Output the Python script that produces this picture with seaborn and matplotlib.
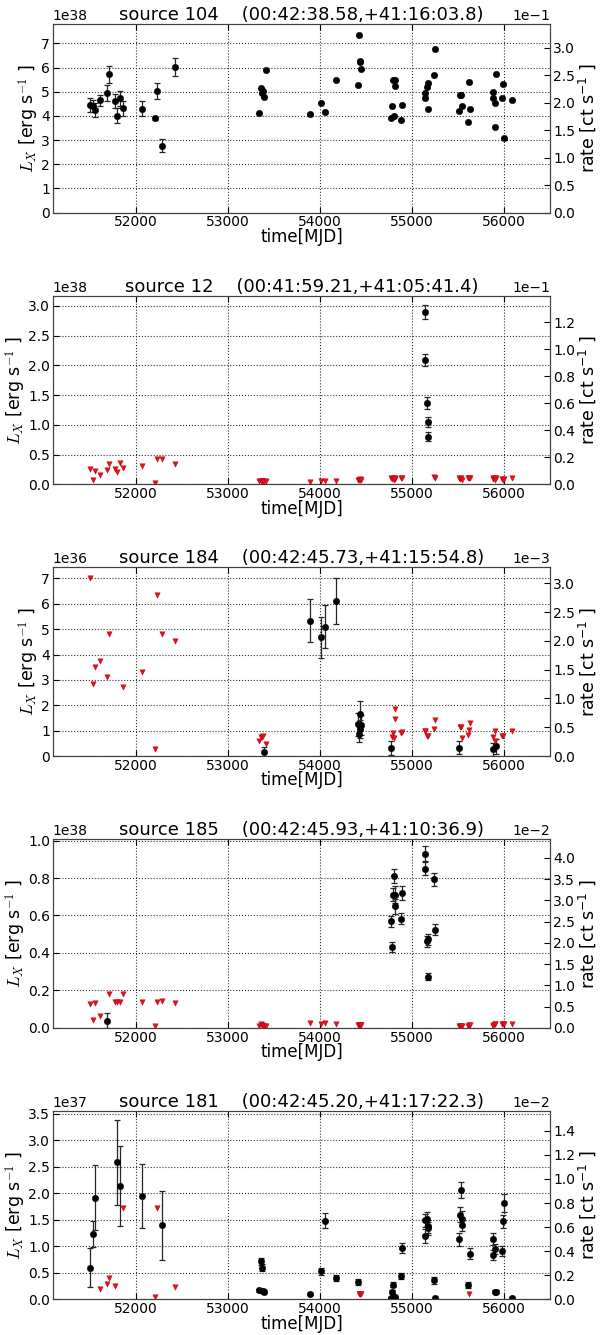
import numpy as np
import pandas as pd
import seaborn as sns
import matplotlib
matplotlib.use('Agg')
from matplotlib import pyplot as plt
from matplotlib.ticker import MultipleLocator

# luminosity per unit count rate (erg s^-1 per ct s^-1)
LX_PER_RATE = 2.27e39

# ---- source 104, Lx in units of 1e38 ----
s104_t = [51509, 51538, 51563, 51610, 51690, 51715, 51773, 51798, 51827, 51863,
          52069, 52209, 52227, 52289, 52422,
          53336, 53361, 53368, 53386, 53397, 53419,
          53892, 54007, 54054, 54170,
          54412, 54419, 54433, 54440, 54451,
          54776, 54783, 54798, 54805, 54812, 54816, 54877, 54888,
          55137, 55144, 55159, 55170, 55177, 55235, 55249,
          55509, 55516, 55531, 55545, 55603, 55614, 55625,
          55876, 55884, 55898, 55905, 55913, 55975, 55983, 55995, 56080]
s104_lx = [4.44, 4.42, 4.24, 4.64, 4.95, 5.73, 4.62, 4.01, 4.73, 4.31,
           4.30, 3.90, 5.04, 2.77, 6.01,
           4.11, 5.15, 4.93, 5.01, 4.77, 5.88,
           4.07, 4.52, 4.17, 5.50,
           5.29, 7.34, 6.26, 6.22, 5.93,
           3.93, 4.42, 5.50, 4.00, 5.47, 5.24, 3.85, 4.46,
           4.94, 4.76, 5.19, 5.37, 4.27, 5.68, 6.76,
           4.21, 4.85, 4.88, 4.39, 3.73, 5.40, 4.29,
           4.72, 4.98, 3.55, 4.55, 5.73, 4.76, 5.33, 3.08, 4.66]
s104_err = [0.28, 0.25, 0.29, 0.22, 0.32, 0.35, 0.30, 0.30, 0.32, 0.30,
            0.31, 0.05, 0.34, 0.26, 0.37] + [0.0] * 46
s104_ul_t = []
s104_ul = []

# ---- source 12, Lx in units of 1e38 ----
s12_t = [55137, 55144, 55159, 55170, 55177]
s12_lx = [2.90, 2.09, 1.36, 1.05, 0.80]
s12_err = [0.12, 0.10, 0.10, 0.09, 0.08]
s12_ul_t = [51509, 51538, 51563, 51610, 51690, 51715, 51773, 51798, 51827, 51863,
            52069, 52209, 52227, 52289, 52422,
            53336, 53361, 53368, 53386, 53397, 53419,
            53892, 54007, 54054, 54170,
            54412, 54419, 54433, 54440, 54451,
            54776, 54783, 54798, 54805, 54812, 54816, 54877, 54888,
            55235, 55249,
            55509, 55516, 55531, 55545, 55603, 55614, 55625,
            55876, 55884, 55898, 55905, 55913, 55975, 55983, 55995, 56080]
s12_ul = [0.26, 0.08, 0.22, 0.15, 0.24, 0.34, 0.26, 0.20, 0.35, 0.27,
          0.30, 0.02, 0.43, 0.43, 0.34,
          0.05, 0.06, 0.05, 0.06, 0.04, 0.05,
          0.04, 0.05, 0.06, 0.05,
          0.08, 0.08, 0.09, 0.08, 0.08,
          0.10, 0.09, 0.10, 0.08, 0.10, 0.09, 0.10, 0.10,
          0.12, 0.11,
          0.10, 0.09, 0.10, 0.08, 0.10, 0.11, 0.10,
          0.10, 0.09, 0.10, 0.08, 0.10, 0.09, 0.08, 0.09, 0.10]

# ---- source 184, Lx in units of 1e36 ----
s184_t = [53397, 53892, 54007, 54054, 54170, 54412, 54419, 54433, 54440, 54451,
          54776, 55509, 55884, 55913]
s184_lx = [0.16, 5.33, 4.68, 5.09, 6.11, 1.25, 0.87, 1.65, 1.07, 1.21,
           0.33, 0.33, 0.26, 0.38]
s184_err = [0.20, 0.85, 0.80, 0.85, 0.92, 0.45, 0.30, 0.50, 0.35, 0.40,
            0.28, 0.26, 0.25, 0.30]
s184_ul_t = [51509, 51538, 51563, 51610, 51690, 51715, 51863, 52069, 52209, 52227,
             52289, 52422, 53336, 53361, 53368, 53386, 53419,
             54783, 54798, 54805, 54812, 54816, 54877, 54888,
             55137, 55144, 55159, 55170, 55235, 55249,
             55516, 55531, 55545, 55603, 55614, 55625,
             55876, 55898, 55905, 55975, 55983, 56080]
s184_ul = [7.03, 2.82, 3.51, 3.76, 3.10, 4.82, 2.72, 3.31, 0.29, 6.35,
           4.80, 4.55, 0.59, 0.74, 0.76, 0.79, 0.46,
           0.74, 0.91, 0.70, 1.87, 1.46, 0.92, 0.95,
           1.00, 0.98, 0.78, 0.78, 1.07, 1.42,
           1.13, 1.15, 0.71, 0.83, 1.04, 1.31,
           0.75, 0.59, 0.98, 0.78, 0.78, 0.98]

# ---- source 185, Lx in units of 1e38 ----
s185_t = [51690, 54776, 54783, 54798, 54805, 54812, 54816, 54877, 54888,
          55137, 55144, 55159, 55170, 55177, 55235, 55249]
s185_lx = [0.037, 0.568, 0.432, 0.710, 0.811, 0.650, 0.710, 0.583, 0.720,
           0.930, 0.850, 0.462, 0.473, 0.273, 0.793, 0.523]
s185_err = [0.040, 0.030, 0.025, 0.035, 0.035, 0.040, 0.045, 0.030, 0.035,
            0.040, 0.035, 0.030, 0.030, 0.020, 0.035, 0.030]
s185_ul_t = [51509, 51538, 51563, 51610, 51715, 51773, 51798, 51827, 51863,
             52069, 52209, 52227, 52289, 52422,
             53336, 53361, 53368, 53386, 53397, 53419,
             53892, 54007, 54054, 54170,
             54412, 54419, 54433, 54440, 54451,
             55509, 55516, 55531, 55545, 55603, 55614, 55625,
             55876, 55884, 55898, 55905, 55975, 55983, 55995, 56080]
s185_ul = [0.127, 0.040, 0.130, 0.065, 0.180, 0.140, 0.140, 0.140, 0.180,
           0.135, 0.010, 0.140, 0.145, 0.130,
           0.012, 0.020, 0.015, 0.010, 0.012, 0.010,
           0.025, 0.018, 0.024, 0.018,
           0.015, 0.015, 0.015, 0.015, 0.015,
           0.012, 0.012, 0.012, 0.012, 0.010, 0.014, 0.016,
           0.012, 0.016, 0.018, 0.020, 0.020, 0.018, 0.018, 0.022]

# ---- source 181, Lx in units of 1e37 ----
s181_t = [51509, 51538, 51563, 51798, 51827, 52069, 52289,
          53336, 53361, 53368, 53386, 53397,
          53892, 54007, 54054, 54170, 54412,
          54776, 54783, 54798, 54805, 54812, 54877, 54888,
          55137, 55144, 55159, 55170, 55177, 55235, 55249,
          55509, 55516, 55531, 55538, 55545, 55603, 55625,
          55876, 55884, 55898, 55905, 55913, 55975, 55983, 55995, 56080]
s181_lx = [0.60, 1.23, 1.92, 2.58, 2.14, 1.95, 1.40,
           0.17, 0.72, 0.60, 0.16, 0.15,
           0.11, 0.53, 1.48, 0.40, 0.33,
           0.03, 0.145, 0.28, 0.05, 0.045, 0.44, 0.97,
           1.49, 1.20, 1.51, 1.38, 1.34, 0.36, 0.03,
           1.13, 1.60, 2.07, 1.52, 1.41, 0.27, 0.86,
           0.84, 1.14, 0.15, 0.95, 0.15, 0.91, 1.47, 1.81, 0.03]
s181_err = [0.37, 0.25, 0.62, 0.80, 0.75, 0.60, 0.65,
            0.03, 0.07, 0.06, 0.03, 0.03,
            0.02, 0.07, 0.14, 0.06, 0.05,
            0.02, 0.03, 0.05, 0.02, 0.02, 0.06, 0.10,
            0.12, 0.13, 0.13, 0.12, 0.12, 0.06, 0.02,
            0.13, 0.15, 0.15, 0.14, 0.13, 0.05, 0.10,
            0.10, 0.12, 0.03, 0.10, 0.03, 0.10, 0.13, 0.17, 0.02]
s181_ul_t = [51610, 51690, 51715, 51773, 51863, 52209, 52227, 52422,
             54419, 54433, 54440, 54451, 55614]
s181_ul = [0.19, 0.30, 0.40, 0.25, 1.73, 0.04, 1.73, 0.24,
           0.11, 0.10, 0.10, 0.11, 0.10]

titles = ['source 104    (00:42:38.58,+41:16:03.8)',
          'source 12    (00:41:59.21,+41:05:41.4)',
          'source 184    (00:42:45.73,+41:15:54.8)',
          'source 185    (00:42:45.93,+41:10:36.9)',
          'source 181    (00:42:45.20,+41:17:22.3)']
units = [1e38, 1e38, 1e36, 1e38, 1e37]
ytops = [7.8, 3.17, 7.43, 1.0075, 3.55]
lsteps = [1, 0.5, 1, 0.2, 0.5]
rsteps = [0.05, 0.02, 0.0005, 0.005, 0.002]

sources = [
    (s104_t, s104_lx, s104_err, s104_ul_t, s104_ul),
    (s12_t, s12_lx, s12_err, s12_ul_t, s12_ul),
    (s184_t, s184_lx, s184_err, s184_ul_t, s184_ul),
    (s185_t, s185_lx, s185_err, s185_ul_t, s185_ul),
    (s181_t, s181_lx, s181_err, s181_ul_t, s181_ul),
]

sns.set_style('ticks', {'xtick.direction': 'in', 'ytick.direction': 'in',
                        'axes.edgecolor': '0.25', 'text.color': 'black',
                        'axes.labelcolor': 'black', 'xtick.color': 'black',
                        'ytick.color': 'black'})
plt.rcParams['font.family'] = ['DejaVu Sans']
plt.rcParams['xtick.labelsize'] = 10
plt.rcParams['ytick.labelsize'] = 10

fig, axes = plt.subplots(5, 1, figsize=(6, 13.35), dpi=100)
fig.subplots_adjust(left=0.088, right=0.917, top=0.982, bottom=0.0266, hspace=0.441)

for i, ax in enumerate(axes):
    t, lx, err, ul_t, ul = sources[i]
    u = units[i]
    det = pd.DataFrame({'t': t, 'lx': np.array(lx) * u, 'err': np.array(err) * u})
    lim = pd.DataFrame({'t': ul_t, 'lx': np.array(ul, dtype=float) * u})

    ax.errorbar(det['t'], det['lx'], yerr=det['err'], fmt='none', ecolor='0.15',
                elinewidth=0.9, capsize=2.2, capthick=0.9, zorder=3)
    sns.scatterplot(data=det, x='t', y='lx', ax=ax, color='black', s=22,
                    edgecolor='black', linewidth=0.3, zorder=4)
    if len(lim):
        sns.scatterplot(data=lim, x='t', y='lx', ax=ax, color='#e8101a', marker='v',
                        s=15, edgecolor='#b00010', linewidth=0.3, zorder=5)

    ax.set_xlim(51100, 56500)
    ax.set_ylim(0, ytops[i] * u)
    ax.xaxis.set_major_locator(MultipleLocator(1000))
    ax.yaxis.set_major_locator(MultipleLocator(lsteps[i] * u))
    ax.ticklabel_format(axis='y', style='sci', scilimits=(0, 0))
    ax.tick_params(top=True, direction='in', length=4, width=0.8)
    ax.tick_params(axis='x', pad=2)
    ax.tick_params(axis='y', pad=2)
    ax.grid(True, linestyle=':', color='0.2', linewidth=0.8)
    ax.set_axisbelow(True)
    ax.set_xlabel('time[MJD]', fontsize=12, labelpad=-1)
    ax.set_ylabel(r'$L_X$ [erg s$^{-1}$ ]', fontsize=12.5, math_fontfamily='cm', labelpad=0)
    ax.set_title(titles[i], fontsize=13, pad=3)
    ax.yaxis.get_offset_text().set_fontsize(10)

    ax2 = ax.twinx()
    ax2.set_ylim(0, ytops[i] * u / LX_PER_RATE)
    ax2.yaxis.set_major_locator(MultipleLocator(rsteps[i]))
    ax2.ticklabel_format(axis='y', style='sci', scilimits=(0, 0))
    ax2.tick_params(direction='in', length=4, width=0.8, pad=2)
    ax2.set_ylabel(r'rate [ct s$^{-1}$ ]', fontsize=12.5, labelpad=1)
    ax2.yaxis.get_offset_text().set_fontsize(10)
    ax2.grid(False)

fig.savefig('out.png', dpi=100)
